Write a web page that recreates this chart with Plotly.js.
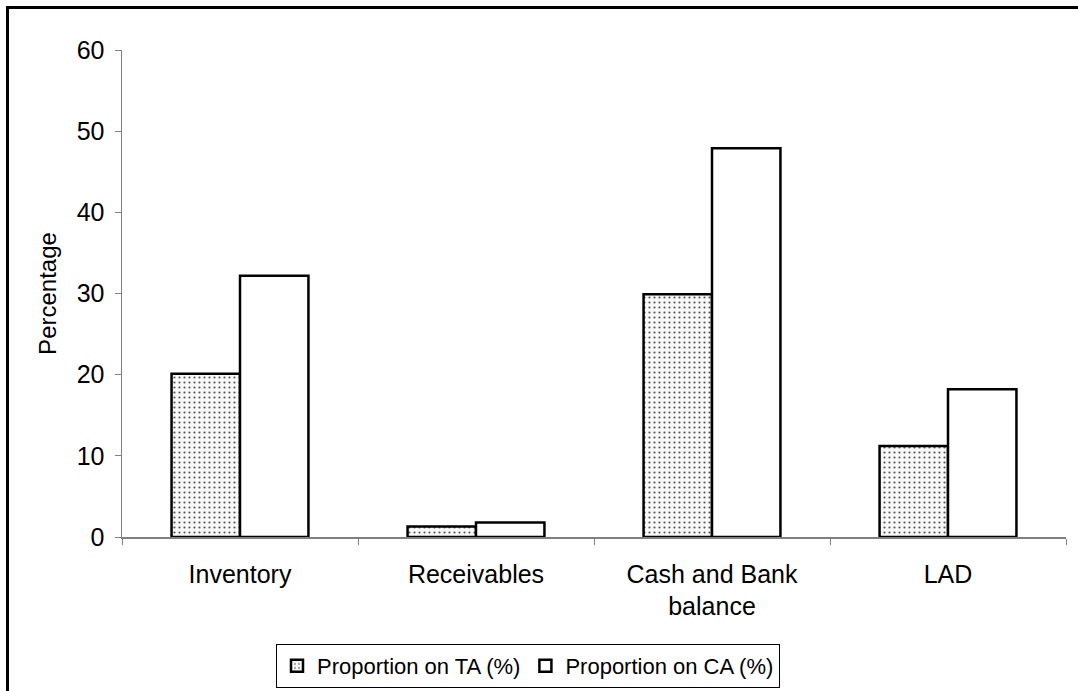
<!DOCTYPE html>
<html>
<head>
<meta charset="utf-8">
<script src="https://cdn.plot.ly/plotly-3.0.1.min.js"></script>
<style>
html,body{margin:0;padding:0;background:#fff;}
#wrap{position:relative;width:1078px;height:691px;overflow:hidden;}
#chart{width:1078px;height:691px;}
#frame{position:absolute;left:6px;top:6px;width:1200px;height:800px;border-left:3px solid #000;border-top:3px solid #000;pointer-events:none;}
</style>
</head>
<body>
<div id="wrap"><div id="chart"></div><div id="frame"></div></div>
<script>
const categories = ["Inventory", "Receivables", "Cash and Bank<br>balance", "LAD"];
const seriesNames = ["Proportion on TA (%)", "Proportion on CA (%)"];
const taValues = [20.1, 1.3, 29.9, 11.2];
const caValues = [32.2, 1.8, 47.9, 18.2];
const yTicks = [0, 10, 20, 30, 40, 50, 60];

const FAM = "Liberation Sans, Arial, sans-serif";
function f(size) { return {family: FAM, size: size, color: "#000"}; }

const traces = [
  {
    type: "bar", name: seriesNames[0], x: categories, y: taValues,
    marker: {
      color: "#f8f8f8",
      line: {color: "#000", width: 2.5},
      pattern: {shape: ".", fgcolor: "#555", bgcolor: "#f8f8f8", size: 5, solidity: 0.15, fillmode: "replace"}
    }
  },
  {
    type: "bar", name: seriesNames[1], x: categories, y: caValues,
    marker: {color: "#ffffff", line: {color: "#000", width: 2.5}}
  }
];

const layout = {
  width: 1078, height: 691,
  margin: {l: 122, r: 12, t: 50, b: 154, autoexpand: false},
  paper_bgcolor: "#fff", plot_bgcolor: "#fff",
  font: f(25),
  barmode: "group", bargap: 0.42, bargroupgap: 0,
  showlegend: true,
  legend: {
    orientation: "h", xref: "container", yref: "container",
    x: 528 / 1078, xanchor: "center", y: 1 - 688 / 691, yanchor: "bottom",
    bordercolor: "#000", borderwidth: 1, font: f(22),
    itemwidth: 30, tracegroupgap: 0
  },
  xaxis: {
    type: "category", showgrid: false, zeroline: false, automargin: false,
    showline: true, linecolor: "#808080", linewidth: 1.5,
    ticks: "outside", tickson: "boundaries", ticklen: 6, tickcolor: "#808080",
    tickfont: f(25), ticklabelstandoff: 14, fixedrange: true
  },
  yaxis: {
    range: [0, 60], tickvals: yTicks, ticktext: yTicks.map(String),
    showgrid: false, zeroline: false, automargin: false,
    showline: true, linecolor: "#808080", linewidth: 1.5,
    ticks: "outside", ticklen: 6, tickcolor: "#808080",
    tickfont: f(25), ticklabelstandoff: 5,
    title: {text: "Percentage", font: f(24), standoff: 13}
  }
};

Plotly.newPlot("chart", traces, layout, {displayModeBar: false, staticPlot: true});
</script>
</body>
</html>
